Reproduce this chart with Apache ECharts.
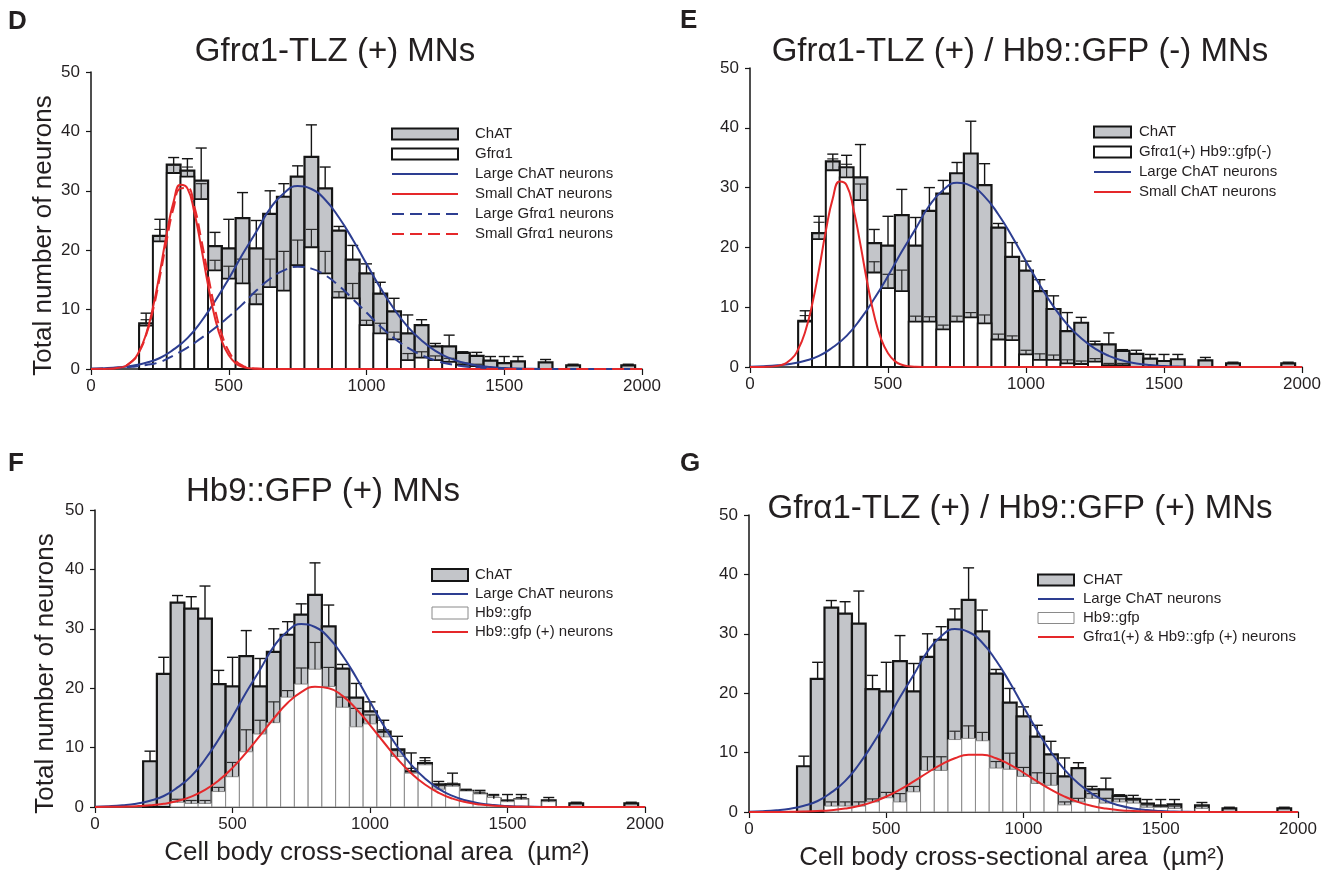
<!DOCTYPE html>
<html>
<head>
<meta charset="utf-8">
<script src="https://cdn.jsdelivr.net/npm/echarts@6/dist/echarts.min.js"></script>
<style>
html,body{margin:0;padding:0;background:#fff;}
#chart{width:1335px;height:875px;}
</style>
</head>
<body>
<div id="chart"></div>
<script>
// ---------- data ----------
// histogram bin centres (µm²), bin width 50
const bins = [200,250,300,350,400,450,500,550,600,650,700,750,800,850,900,950,1000,1050,1100,1150,1200,1250,1300,1350,1400,1450,1500,1550,1600,1650,1700,1750,1800,1850,1900,1950];
// ChAT (all panels)
const chat    = [7.7,22.4,34.4,33.4,31.7,20.7,20.3,25.4,20.3,26.1,29.0,32.4,35.7,30.4,23.3,18.4,16.1,12.7,9.7,6.0,7.4,3.8,3.8,2.7,2.2,1.4,1.0,1.3,0,1.1,0,0.6,0,0,0,0.6];
const chatErr = [9.4,25.2,35.6,35.4,37.2,23.0,25.2,29.7,25.0,30.0,31.2,34.2,41.1,34.0,24.0,20.8,17.7,14.6,11.9,9.1,8.3,4.3,5.7,2.9,2.8,2.1,2.1,2.1,0,1.6,0,0.8,0,0,0,0.8];
// D: Gfrα1
const gfr     = [7.3,21.5,33.0,32.4,28.6,16.6,15.2,14.4,10.9,13.8,13.2,17.5,20.5,16.1,12.0,11.9,7.4,6.0,5.0,1.5,1.9,1.5,1.2,0.7,0.5,0,0,0,0,0,0,0,0,0,0,0];
const gfrErr  = [8.3,23.5,34.3,34.0,31.2,18.3,17.3,18.5,12.6,18.5,19.8,21.7,23.5,19.8,13.0,14.4,8.2,7.7,6.2,2.6,2.9,2.2,1.8,1.0,0.8,0,0,0,0,0,0,0,0,0,0,0];
// E: Gfrα1(+) Hb9::gfp(-)
const gfrHbNeg    = [7.6,21.4,32.9,31.7,27.9,15.8,13.2,12.7,7.6,7.6,6.3,7.6,8.3,7.3,4.6,4.5,2.1,1.2,1.2,0.6,0.5,0.9,0.3,0.3,0,0,0,0,0,0,0,0,0,0,0,0];
const gfrHbNegErr = [8.6,24.2,34.8,33.9,30.6,17.6,15.5,16.2,8.5,8.4,7.0,8.5,9.1,8.7,5.5,5.2,2.8,2.2,2.0,1.2,1.0,1.4,0.6,0.6,0,0,0,0,0,0,0,0,0,0,0,0];
// F: Hb9::gfp
const hb9     = [0,0,0.8,0.6,0.6,2.6,5.1,9.3,12.3,14.2,18.5,20.7,23.2,20.3,16.8,13.5,14.0,11.8,8.5,5.7,7.1,3.0,3.5,2.7,2.2,1.6,0.9,1.3,0,0.9,0,0,0,0,0,0];
const hb9Err  = [0,0,1.3,1.1,1.1,3.3,7.5,13.0,14.6,17.7,19.6,23.4,27.7,23.5,18.5,16.6,15.5,13.0,9.5,6.5,7.8,3.6,4.0,3.0,2.5,1.9,1.2,1.6,0,1.1,0,0,0,0,0,0];
// G: Hb9::gfp among Gfrα1(+)
const gfrHb9    = [0,0,1.0,1.0,1.0,1.7,2.4,1.7,3.4,7.0,7.0,12.2,12.4,12.0,7.4,7.2,6.0,4.8,4.5,1.2,1.7,2.3,1.5,1.7,1.5,0.8,0.8,0.6,0,0.6,0,0,0,0,0,0];
const gfrHb9Err = [0,0,1.7,1.7,1.7,2.2,3.3,3.1,4.3,9.3,9.3,13.6,14.5,13.4,8.5,9.9,7.5,6.6,6.5,1.7,2.3,3.1,2.3,2.2,2.0,1.2,1.2,1.0,0,1.0,0,0,0,0,0,0];

// fitted curves
const curveX = [0,50,100,150,200,250,300,350,400,450,500,550,600,650,700,750,800,850,900,950,1000,1050,1100,1150,1200,1250,1300,1350,1400,1450,1500,1550,1600,1650,1700,1750,1800,1850,1900,1950,2000];
const largeChat = [0.06,0.13,0.28,0.55,1.04,1.85,3.3,5.2,8.0,11.4,15.2,19.3,23.1,27.0,29.6,30.8,30.3,28.5,25.5,21.8,17.7,13.7,10.1,7.1,4.8,3.06,1.86,1.08,0.6,0.32,0.16,0.08,0.03,0.01,0,0,0,0,0,0,0];
const largeGfr  = [0.04,0.09,0.19,0.37,0.67,1.17,2.3,3.6,5.2,6.9,8.8,10.9,13.2,15.2,16.6,17.2,16.9,15.8,14.0,11.8,9.5,7.2,5.2,3.58,2.33,1.44,0.85,0.47,0.25,0.13,0.06,0.02,0,0,0,0,0,0,0,0,0];
const hb9Pos    = [0.01,0.03,0.06,0.13,0.28,0.54,1.0,1.75,2.88,4.48,6.59,9.16,12.0,14.9,17.5,19.35,20.25,20.0,18.7,16.5,13.8,10.9,8.08,5.69,3.78,2.38,1.41,0.79,0.42,0.21,0.10,0.04,0.02,0,0,0,0,0,0,0,0];
const gfrHb9Pos = [0,0,0.01,0.03,0.07,0.16,0.31,0.58,1.01,1.67,2.59,3.77,5.15,6.61,7.98,9.04,9.62,9.62,9.04,7.98,6.61,5.15,3.77,2.59,1.67,1.01,0.58,0.31,0.16,0.07,0.03,0.01,0,0,0,0,0,0,0,0,0];
const smallX    = [0,50,100,150,175,200,225,250,275,300,325,350,375,400,425,450,475,500,525,550,575,600,650,2000];
const smallChat = [0,0.02,0.19,1.35,3.0,5.9,10.4,16.3,22.8,28.2,31.0,30.4,26.4,20.5,14.1,8.6,4.7,2.3,0.98,0.37,0.13,0.04,0,0];
const smallGfr  = [0,0.03,0.2,1.33,2.9,5.7,9.9,15.5,21.7,27.2,30.4,30.5,27.4,21.9,15.8,10.1,5.8,3.0,1.38,0.57,0.21,0.07,0,0];

const panelTitles = ['Gfrα1-TLZ (+) MNs','Gfrα1-TLZ (+) / Hb9::GFP (-) MNs','Hb9::GFP (+) MNs','Gfrα1-TLZ (+) / Hb9::GFP (+) MNs'];
const panelLetters = ['D','E','F','G'];
const xName = 'Cell body cross-sectional area  (µm²)';
const yName = 'Total number of neurons';

// ---------- styles ----------
const FONT = 'Arial, "Liberation Sans", Helvetica, sans-serif';
const TXT = '#231f20';
const GRAY = '#c3c5c9';
const BLUE = '#2d3e91';
const RED = '#e5282a';
const BIN = bins[1] - bins[0];
const CAP = 20;

function barItem(fill, stroke, lw) {
  return function (params, api) {
    const x = api.value(0), y = api.value(1);
    if (!(y > 0)) return null;
    const a = api.coord([x - BIN / 2, y]);
    const b = api.coord([x + BIN / 2, 0]);
    return {type: 'rect', shape: {x: a[0], y: a[1], width: b[0] - a[0], height: b[1] - a[1]},
            style: {fill: fill, stroke: stroke, lineWidth: lw}};
  };
}
function errItem(color, lw) {
  return function (params, api) {
    const x = api.value(0), lo = api.value(1), hi = api.value(2);
    if (!(hi > lo)) return null;
    const p = api.coord([x, lo]), q = api.coord([x, hi]);
    const h = api.size([CAP, 0])[0];
    return {type: 'group', children: [
      {type: 'line', shape: {x1: p[0], y1: p[1], x2: q[0], y2: q[1]}, style: {stroke: color, lineWidth: lw}},
      {type: 'line', shape: {x1: q[0] - h, y1: q[1], x2: q[0] + h, y2: q[1]}, style: {stroke: color, lineWidth: lw}}
    ]};
  };
}

function panelSeries(i, chatName, wName, wVals, wErr, wStroke, wLw, curves) {
  const ax = {xAxisIndex: i, yAxisIndex: i};
  const s = [];
  s.push(Object.assign({type: 'custom', name: chatName, z: 1, silent: true, clip: false,
    renderItem: barItem(GRAY, '#151515', 2.2), encode: {x: 0, y: 1},
    itemStyle: {color: GRAY, borderColor: '#151515'},
    data: bins.map((b, k) => [b, chat[k]])}, ax));
  s.push(Object.assign({type: 'custom', name: wName, z: 2, silent: true, clip: false,
    renderItem: barItem('#ffffff', wStroke, wLw), encode: {x: 0, y: 1},
    itemStyle: {color: '#ffffff', borderColor: wStroke},
    data: bins.map((b, k) => [b, wVals[k]])}, ax));
  s.push(Object.assign({type: 'custom', name: 'wErr' + i, z: 3, silent: true, clip: false,
    renderItem: errItem('#2a2a2a', 1.2), encode: {x: 0, y: [1, 2]},
    data: bins.map((b, k) => [b, wVals[k], wErr[k]])}, ax));
  s.push(Object.assign({type: 'custom', name: 'cErr' + i, z: 3, silent: true, clip: false,
    renderItem: errItem('#151515', 1.4), encode: {x: 0, y: [1, 2]},
    data: bins.map((b, k) => [b, chat[k], chatErr[k]])}, ax));
  curves.forEach(c => s.push(Object.assign({type: 'line', name: c.name, z: 5, silent: true,
    smooth: true, symbol: 'none', showSymbol: false,
    lineStyle: {color: c.color, width: 2, type: c.dash ? [12, 6] : 'solid'},
    itemStyle: {color: c.color},
    data: c.xs.map((x, k) => [x, c.ys[k]])}, ax)));
  return s;
}

const grids = [
  {left: 91, top: 72, width: 551, height: 297},
  {left: 750, top: 68, width: 552, height: 299},
  {left: 95, top: 510, width: 550, height: 297},
  {left: 749, top: 515, width: 549, height: 297}
];

function plain(v) { return String(v); }

function xAxis(i, named, pad) {
  const a = {gridIndex: i, type: 'value', min: 0, max: 2000, interval: 500,
    axisLine: {show: true, onZero: false, lineStyle: {color: '#151515', width: 1.5}},
    axisTick: {show: true, inside: false, length: 6, lineStyle: {color: '#151515', width: 1.2}},
    axisLabel: {show: true, color: TXT, fontSize: 17, fontFamily: FONT, margin: 9, showMinLabel: true, showMaxLabel: true, formatter: plain},
    splitLine: {show: false}};
  if (named) {
    a.name = xName; a.nameLocation = 'middle'; a.nameGap = 33;
    a.nameTextStyle = {fontSize: 26, color: TXT, fontFamily: FONT, padding: pad};
  }
  return a;
}
function yAxis(i, named, gap) {
  const a = {gridIndex: i, type: 'value', min: 0, max: 50, interval: 10,
    axisLine: {show: true, onZero: false, lineStyle: {color: '#151515', width: 1.5}},
    axisTick: {show: true, inside: false, length: 5, lineStyle: {color: '#151515', width: 1.2}},
    axisLabel: {show: true, color: TXT, fontSize: 17, fontFamily: FONT, margin: 11, showMinLabel: true, showMaxLabel: true, formatter: plain},
    splitLine: {show: false}};
  if (named) {
    a.name = yName; a.nameLocation = 'middle'; a.nameGap = gap;
    a.nameTextStyle = {fontSize: 26, color: TXT, fontFamily: FONT, padding: [0, 30, 0, 0]};
  }
  return a;
}

function barIcon(name, fill, stroke, w) {
  return {name: name, icon: 'rect', itemStyle: {color: fill, borderColor: stroke, borderWidth: w}};
}
function lineIcon(name) {
  return {name: name, itemStyle: {color: 'rgba(0,0,0,0)', borderColor: 'rgba(0,0,0,0)', borderWidth: 0}};
}
function legend(left, top, w, h, gap, pad, data) {
  return {orient: 'vertical', left: left, top: top, itemWidth: w, itemHeight: h, itemGap: gap,
    selectedMode: false, padding: 0,
    textStyle: {fontSize: 15, color: TXT, fontFamily: FONT, padding: [0, 0, 0, pad], lineHeight: 16},
    data: data};
}

const series = [].concat(
  panelSeries(0, 'ChAT', 'Gfrα1', gfr, gfrErr, '#151515', 1.8, [
    {name: 'Large ChAT neurons', xs: curveX, ys: largeChat, color: BLUE},
    {name: 'Small ChAT neurons', xs: smallX, ys: smallChat, color: RED},
    {name: 'Large Gfrα1 neurons', xs: curveX, ys: largeGfr, color: BLUE, dash: true},
    {name: 'Small Gfrα1 neurons', xs: smallX, ys: smallGfr, color: RED, dash: true}
  ]),
  panelSeries(1, 'ChAT', 'Gfrα1(+) Hb9::gfp(-)', gfrHbNeg, gfrHbNegErr, '#151515', 1.8, [
    {name: 'Large ChAT neurons', xs: curveX, ys: largeChat, color: BLUE},
    {name: 'Small ChAT neurons', xs: smallX, ys: smallChat, color: RED}
  ]),
  panelSeries(2, 'ChAT', 'Hb9::gfp', hb9, hb9Err, '#8a8a8a', 1, [
    {name: 'Large ChAT neurons', xs: curveX, ys: largeChat, color: BLUE},
    {name: 'Hb9::gfp (+) neurons', xs: curveX, ys: hb9Pos, color: RED}
  ]),
  panelSeries(3, 'CHAT', 'Hb9::gfp', gfrHb9, gfrHb9Err, '#8a8a8a', 1, [
    {name: 'Large ChAT neurons', xs: curveX, ys: largeChat, color: BLUE},
    {name: 'Gfrα1(+) & Hb9::gfp (+) neurons', xs: curveX, ys: gfrHb9Pos, color: RED}
  ])
);

const titleCentres = [[335, 35], [1020, 35], [323, 475], [1020, 492]];
const letterPos = [[8, 9], [680, 8], [8, 451], [680, 451]];
const titles = [];
panelLetters.forEach((t, i) => titles.push({text: t, left: letterPos[i][0], top: letterPos[i][1], padding: 0,
  textStyle: {fontSize: 26, fontWeight: 'bold', color: TXT, fontFamily: FONT}}));
panelTitles.forEach((t, i) => titles.push({text: t, left: titleCentres[i][0], top: titleCentres[i][1], padding: 0,
  textAlign: 'center', textStyle: {fontSize: 33, fontWeight: 'normal', color: TXT, fontFamily: FONT}}));

const option = {
  animation: false,
  backgroundColor: '#ffffff',
  title: titles,
  grid: grids.map(g => Object.assign({containLabel: false, outerBoundsMode: 'none'}, g)),
  xAxis: [xAxis(0, false), xAxis(1, false), xAxis(2, true, [0, 0, 0, 14]), xAxis(3, true, [0, 23, 0, 0])],
  yAxis: [yAxis(0, true, 34), yAxis(1, false), yAxis(2, true, 36), yAxis(3, false)],
  legend: [
    legend(391, 126, 66, 11, 4, 12, [barIcon('ChAT', GRAY, '#151515', 2), barIcon('Gfrα1', '#ffffff', '#151515', 2),
      lineIcon('Large ChAT neurons'), lineIcon('Small ChAT neurons'), lineIcon('Large Gfrα1 neurons'), lineIcon('Small Gfrα1 neurons')]),
    legend(1093, 124, 37, 11, 4, 3, [barIcon('ChAT', GRAY, '#151515', 2), barIcon('Gfrα1(+) Hb9::gfp(-)', '#ffffff', '#151515', 2),
      lineIcon('Large ChAT neurons'), lineIcon('Small ChAT neurons')]),
    legend(431, 567, 36, 12, 3, 2, [barIcon('ChAT', GRAY, '#151515', 2), lineIcon('Large ChAT neurons'),
      barIcon('Hb9::gfp', '#ffffff', '#8a8a8a', 1), lineIcon('Hb9::gfp (+) neurons')]),
    legend(1037, 572, 36, 11, 3, 4, [barIcon('CHAT', GRAY, '#151515', 2), lineIcon('Large ChAT neurons'),
      barIcon('Hb9::gfp', '#ffffff', '#8a8a8a', 1), lineIcon('Gfrα1(+) & Hb9::gfp (+) neurons')])
  ],
  series: series
};

const chart = echarts.init(document.getElementById('chart'), null, {renderer: 'canvas'});
chart.setOption(option);
</script>
</body>
</html>
